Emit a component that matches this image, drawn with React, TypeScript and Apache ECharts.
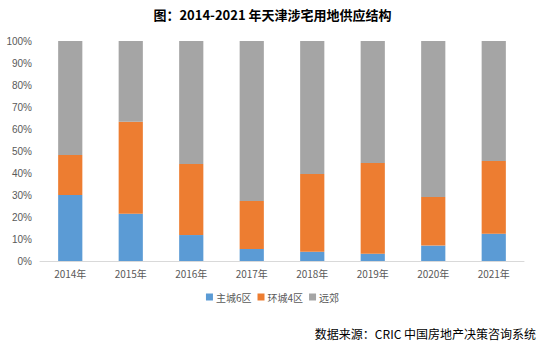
import React, { useEffect, useRef } from "react";
import * as echarts from "echarts";

const categories = ["2014年", "2015年", "2016年", "2017年", "2018年", "2019年", "2020年", "2021年"];
const mainCity = [30.0, 21.5, 11.8, 5.5, 4.2, 3.3, 7.0, 12.4];
const ringCity = [18.2, 41.8, 32.3, 21.8, 35.3, 41.2, 22.1, 33.1];
const suburbs = mainCity.map((v, i) => +(100 - v - ringCity[i]).toFixed(1));
const seriesNames = ["主城6区", "环城4区", "远郊"];
const colors = ["#5B9BD5", "#ED7D31", "#A5A5A5"];

export default function App() {
  const ref = useRef<HTMLDivElement>(null);
  useEffect(() => {
    if (!ref.current) return;
    const chart = echarts.init(ref.current, null, { renderer: "svg" });
    const data = [mainCity, ringCity, suburbs];
    chart.setOption({
      animation: false,
      title: {
        text: "图：2014-2021 年天津涉宅用地供应结构",
        left: "center",
        top: 3,
        textStyle: { fontFamily: "Noto Sans CJK SC", fontWeight: "bold", fontSize: 13, color: "#000" },
      },
      grid: { left: 40, right: 21, top: 41, bottom: 86 },
      legend: {
        bottom: 40,
        left: "center",
        itemWidth: 7,
        itemHeight: 7,
        itemGap: 6,
        icon: "rect",
        textStyle: { fontFamily: "Noto Sans CJK SC", fontSize: 10, color: "#595959", padding: [0, 0, 0, -2] },
        data: seriesNames,
      },
      graphic: [
        {
          type: "text",
          right: 9,
          top: 327,
          style: {
            text: "数据来源：CRIC 中国房地产决策咨询系统",
            fontFamily: "Noto Sans CJK SC",
            fontSize: 12,
            fill: "#000",
          },
        },
      ],
      xAxis: {
        type: "category",
        data: categories,
        axisLine: { lineStyle: { color: "#D9D9D9" } },
        axisTick: { show: false },
        axisLabel: { color: "#595959", fontSize: 10, fontFamily: "Noto Sans CJK SC", margin: 7 },
      },
      yAxis: {
        type: "value",
        min: 0,
        max: 100,
        interval: 10,
        axisLabel: { formatter: "{value}%", color: "#595959", fontSize: 10, fontFamily: "Liberation Sans", margin: 8 },
        splitLine: { show: false },
        axisLine: { show: false },
        axisTick: { show: false },
      },
      series: seriesNames.map((name, i) => ({
        name,
        type: "bar",
        stack: "total",
        barWidth: "40%",
        itemStyle: { color: colors[i] },
        data: data[i],
      })),
    });
    return () => chart.dispose();
  }, []);
  return <div ref={ref} style={{ width: 545, height: 347, position: "absolute", left: 0, top: 0 }} />;
}
